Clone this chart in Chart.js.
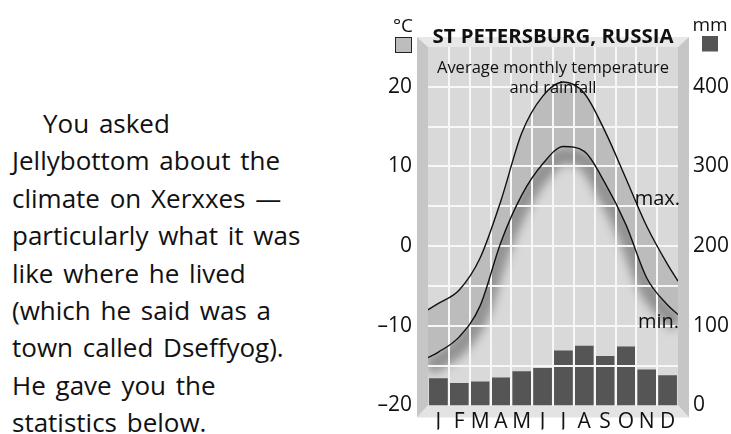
<!DOCTYPE html>
<html>
<head>
<meta charset="utf-8">
<script src="https://cdn.jsdelivr.net/npm/chart.js@4/dist/chart.umd.min.js"></script>
<style>
  html, body { margin:0; padding:0; background:#fff; width:731px; height:434px; overflow:hidden; }
  #para { position:absolute; left:12px; top:105px; width:345px; font-family:"Open Sans", sans-serif;
          font-size:26px; line-height:37.4px; color:#111; white-space:pre; word-spacing:3px; }
  #para .ind { display:inline-block; width:31px; }
  #wrap { position:absolute; left:360px; top:0; width:371px; height:434px; }
</style>
</head>
<body>
<div id="para"><span class="ind"></span>You asked
Jellybottom about the
climate on Xerxxes —
particularly what it was
like where he lived
(which he said was a
town called Dseffyog).
He gave you the
statistics below.</div>
<div id="wrap"><canvas id="c" width="371" height="434" style="width:371px;height:434px"></canvas></div>
<script>
// ---- data ----
const MONTHS = ['J','F','M','A','M','J','J','A','S','O','N','D'];
const TEMP_MAX = [-7.2, -5.5, -1.5, 5.7, 14.2, 18.8, 20.6, 19.2, 14.4, 8.5, 2.5, -2.3];
const TEMP_MIN = [-13.3, -11.4, -7.5, 0.5, 6.4, 10.3, 12.5, 11.9, 7.9, 2.7, -4.0, -7.4];
const TEMP_MAX_EDGES = [-8.0, -4.4];   // curve value at left / right edge of plot
const TEMP_MIN_EDGES = [-14.0, -8.6];
const RAINFALL = [34, 28, 30, 35, 43, 47, 69, 75, 62, 74, 45, 38];
const TEMP_TICKS = [-20, -10, 0, 10, 20];
const RAIN_TICKS = [0, 100, 200, 300, 400];
const TITLE = 'ST PETERSBURG, RUSSIA';
const SUBTITLE = ['Average monthly temperature', 'and rainfall'];

function curve(vals, edges) {
  const pts = [{x: 0, y: edges[0]}];
  vals.forEach((v, i) => pts.push({x: i + 0.5, y: v}));
  pts.push({x: MONTHS.length, y: edges[1]});
  return pts;
}

const FONT = '"Open Sans", sans-serif';

const framePlugin = {
  id: 'frame',
  beforeDraw(chart) {
    const {ctx, chartArea: a} = chart;
    const L = a.left, R = a.right, T = a.top, B = a.bottom, w = 11;
    ctx.save();
    ctx.fillStyle = '#d9d9d9';
    ctx.fillRect(L, T, R - L, B - T);
    const poly = (pts, col) => { ctx.beginPath(); ctx.moveTo(pts[0][0], pts[0][1]);
      pts.slice(1).forEach(p => ctx.lineTo(p[0], p[1])); ctx.closePath(); ctx.fillStyle = col; ctx.fill(); };
    poly([[L - w, T - w + 1], [R + w, T - w + 1], [R, T], [L, T]], '#e8e8e8');
    poly([[L - w, T - w + 1], [L, T], [L, B], [L - w, B + w + 1]], '#c6c6c6');
    poly([[R + w, T - w + 1], [R, T], [R, B], [R + w, B + w + 1]], '#c6c6c6');
    poly([[L, B], [R, B], [R + w, B + w + 1], [L - w, B + w + 1]], '#e3e3e3');
    ctx.restore();
  },
  // white grid drawn over the band, the shadow and the bars, under the curves
  beforeDatasetDraw(chart, args) {
    if (args.index !== 0) return;
    const {ctx, chartArea: a, scales} = chart;
    ctx.save();
    ctx.strokeStyle = '#f7f7f7';
    ctx.lineWidth = 2;
    ctx.beginPath();
    scales.x.ticks.forEach(t => {
      if (t.value <= scales.x.min || t.value >= scales.x.max) return;
      const px = Math.round(scales.x.getPixelForValue(t.value));
      ctx.moveTo(px, a.top); ctx.lineTo(px, a.bottom);
    });
    scales.y.ticks.forEach(t => {
      if (t.value <= scales.y.min || t.value >= scales.y.max) return;
      const py = Math.round(scales.y.getPixelForValue(t.value));
      ctx.moveTo(a.left, py); ctx.lineTo(a.right, py);
    });
    ctx.stroke();
    ctx.restore();
  },
  afterDraw(chart) {
    const {ctx, chartArea: a} = chart;
    const cx = (a.left + a.right) / 2;
    ctx.save();
    ctx.fillStyle = '#111';
    ctx.textAlign = 'center';
    ctx.textBaseline = 'alphabetic';
    ctx.font = 'bold 20.4px ' + FONT;
    ctx.fillText(TITLE, cx, 43);
    ctx.font = '16.5px ' + FONT;
    ctx.fillText(SUBTITLE[0], cx, 73);
    ctx.fillText(SUBTITLE[1], cx, 93);
    ctx.font = '20px ' + FONT;
    ctx.textAlign = 'right';
    ctx.fillText('max.', a.right + 2, 205);
    ctx.fillText('min.', a.right + 1, 328);
    ctx.textAlign = 'center';
    ctx.font = '19px ' + FONT;
    ctx.fillText('°C', 43, 32);
    ctx.fillText('mm', 350, 31);
    ctx.fillStyle = '#bdbdbd';
    ctx.fillRect(35.5, 37.5, 16, 15);
    ctx.strokeStyle = '#222';
    ctx.lineWidth = 1;
    ctx.strokeRect(35.5, 37.5, 16, 15);
    ctx.fillStyle = '#555';
    ctx.fillRect(342, 36, 16, 15.5);
    ctx.restore();
  }
};

const shadowPlugin = {
  id: 'bandShadow',
  beforeDatasetDraw(chart, args) {
    if (chart.data.datasets[args.index].isShadow) {
      const c = chart.ctx; c.save(); c.filter = 'blur(5px)'; c.translate(0, 9);
    }
  },
  afterDatasetDraw(chart, args) {
    if (chart.data.datasets[args.index].isShadow) chart.ctx.restore();
  }
};

new Chart(document.getElementById('c'), {
  type: 'line',
  data: {
    datasets: [
      { label: 'max', data: curve(TEMP_MAX, TEMP_MAX_EDGES), borderColor: '#111', borderWidth: 1.4,
        pointRadius: 0, cubicInterpolationMode: 'monotone', fill: {target: 1}, backgroundColor: '#bcbcbc',
        xAxisID: 'x', yAxisID: 'y', order: 1 },
      { label: 'min', data: curve(TEMP_MIN, TEMP_MIN_EDGES), borderColor: '#111', borderWidth: 1.4,
        pointRadius: 0, cubicInterpolationMode: 'monotone', fill: false,
        xAxisID: 'x', yAxisID: 'y', order: 0 },
      { label: 'shadow', isShadow: true, data: curve(TEMP_MIN, TEMP_MIN_EDGES), borderColor: 'rgba(40,40,40,0.4)',
        borderWidth: 18, pointRadius: 0, cubicInterpolationMode: 'monotone', fill: false,
        xAxisID: 'x', yAxisID: 'y', order: 2 },
      { type: 'bar', label: 'rain', data: RAINFALL.map((v, i) => ({x: i + 0.5, y: v})),
        backgroundColor: '#555', borderWidth: 0, barPercentage: 0.9, categoryPercentage: 1,
        xAxisID: 'x', yAxisID: 'y2', order: 3 }
    ]
  },
  options: {
    responsive: false,
    animation: false,
    events: [],
    layout: { padding: { top: 47, left: 0, right: 0, bottom: 0 } },
    plugins: { legend: { display: false }, tooltip: { enabled: false }, title: { display: false } },
    scales: {
      x: {
        type: 'linear', position: 'bottom', min: 0, max: MONTHS.length, offset: false,
        ticks: { stepSize: 1, display: false },
        grid: { display: false, drawTicks: false, offset: false },
        border: { display: false },
        afterFit(s) { s.height = 0; }
      },
      xl: {
        type: 'linear', position: 'bottom', min: 0, max: MONTHS.length, offset: false,
        afterBuildTicks(s) { s.ticks = MONTHS.map((m, i) => ({value: i + 0.5})); },
        ticks: { callback: (v, i) => MONTHS[i], color: '#111', font: { family: FONT, size: 21 }, padding: 4,
                 maxRotation: 0, autoSkip: false },
        grid: { display: false, drawTicks: false, offset: false },
        border: { display: false },
        afterFit(s) { s.height = 24; }
      },
      y: {
        type: 'linear', position: 'left', min: -20, max: 25,
        ticks: { stepSize: 5, color: '#111', font: { family: FONT, size: 21 }, padding: 16,
                 callback: (v) => TEMP_TICKS.includes(v) ? (v < 0 ? '\u2013' + Math.abs(v) : String(v)) : '' },
        grid: { display: false, drawTicks: false },
        border: { display: false },
        afterFit(s) { s.width = 68; }
      },
      y2: {
        type: 'linear', position: 'right', min: 0, max: 450,
        ticks: { stepSize: 50, color: '#111', font: { family: FONT, size: 21 }, padding: 15,
                 callback: (v) => RAIN_TICKS.includes(v) ? String(v) : '' },
        grid: { display: false, drawTicks: false },
        border: { display: false },
        afterFit(s) { s.width = 53; }
      }
    }
  },
  plugins: [framePlugin, shadowPlugin]
});
</script>
</body>
</html>
